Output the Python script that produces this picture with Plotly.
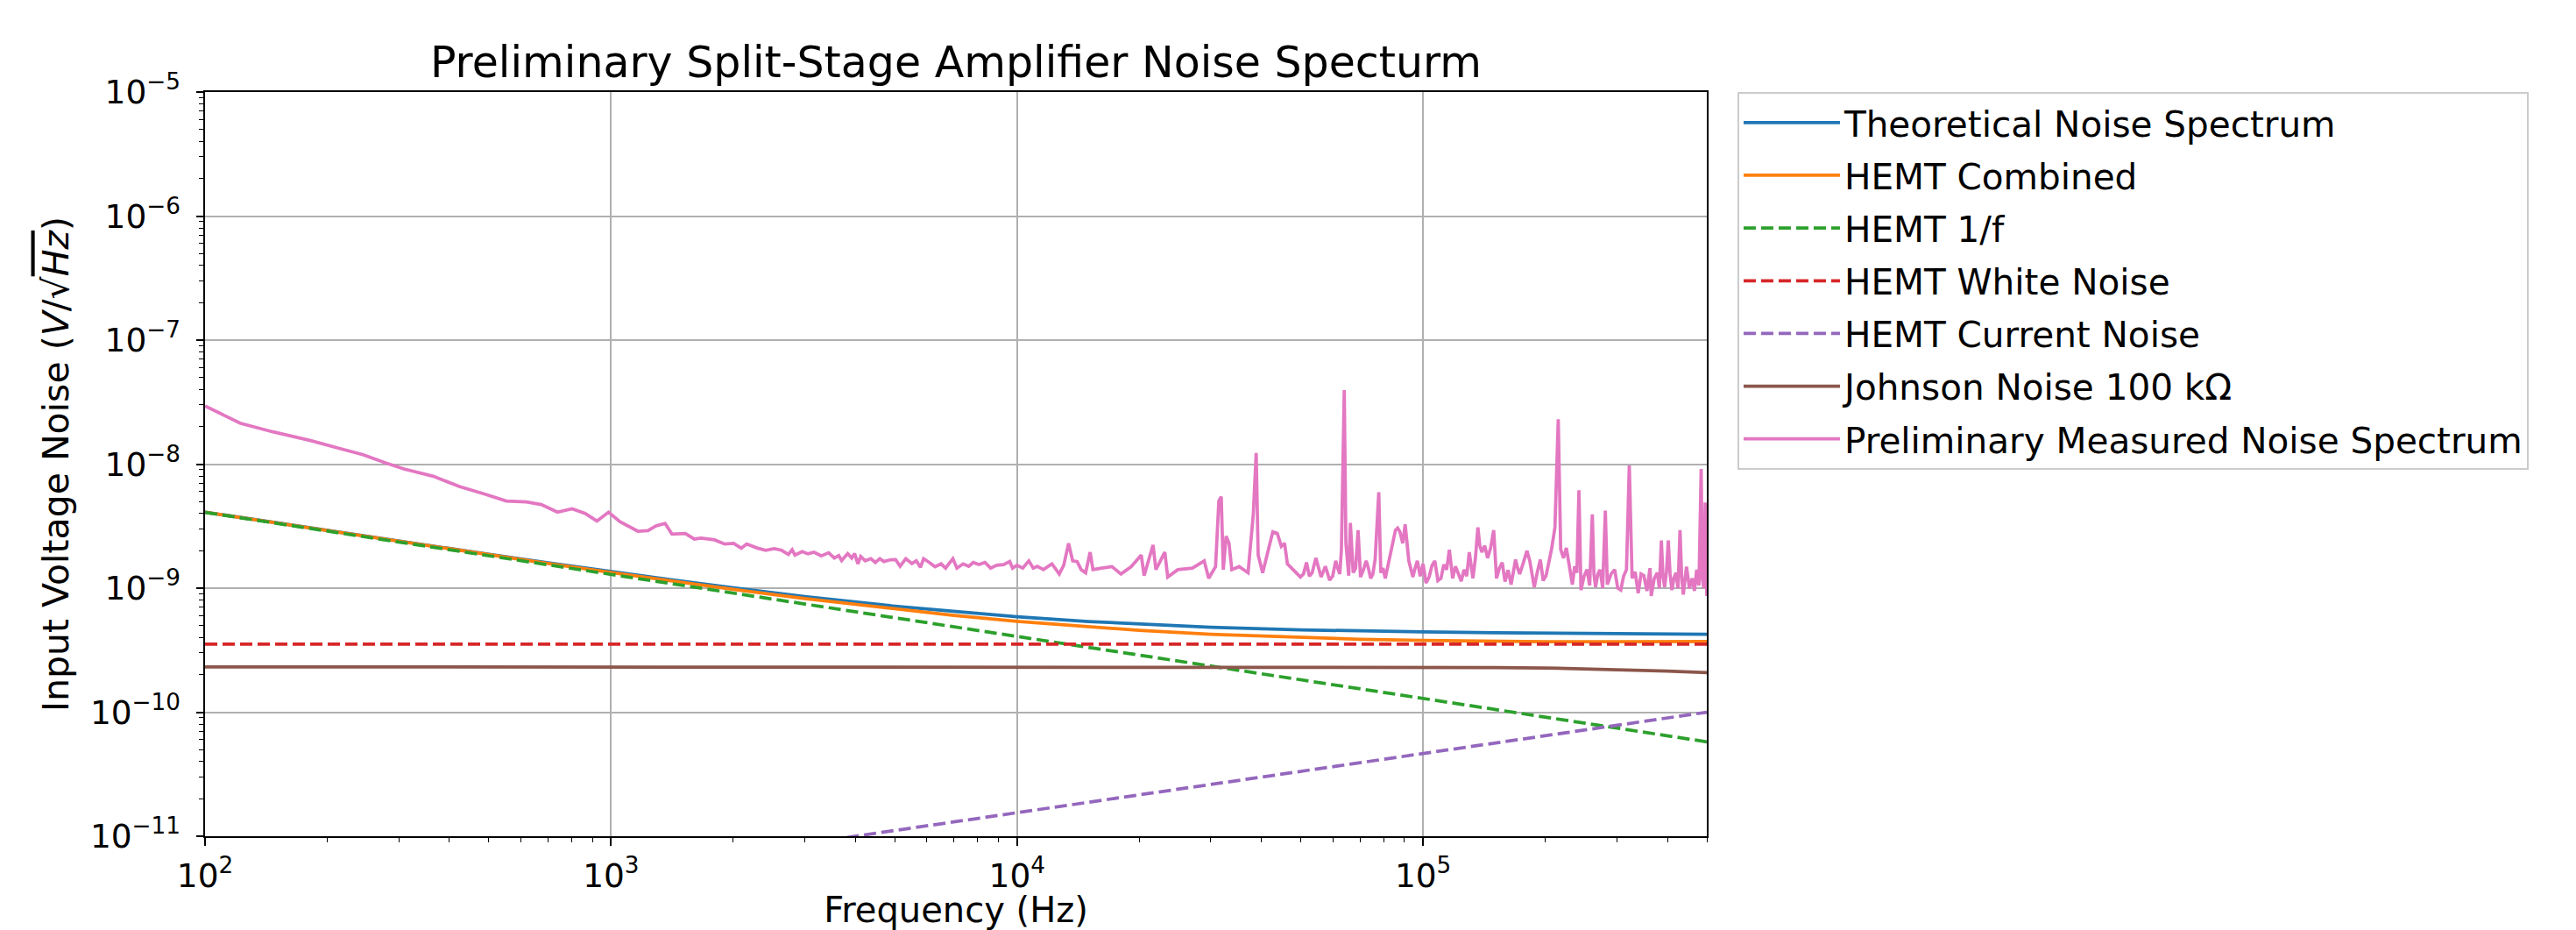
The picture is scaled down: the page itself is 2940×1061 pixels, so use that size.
import plotly.graph_objects as go

# ---------------- data ----------------
theory_freq = [100, 150, 200, 300, 500, 700, 1e3, 1.5e3, 2e3, 3e3, 5e3, 7e3,
               1e4, 1.5e4, 2e4, 3e4, 5e4, 7e4, 1e5, 1.5e5, 2e5, 3e5, 4e5, 5e5]

# values in units of 1e-10 V/sqrt(Hz)
theoretical_total = [41.02, 33.58, 29.16, 23.94, 18.73, 15.99, 13.58, 11.35, 10.05, 8.565, 7.151, 6.455,
                     5.875, 5.382, 5.120, 4.845, 4.612, 4.512, 4.435, 4.375, 4.345, 4.307, 4.278, 4.250]
hemt_combined = [40.95, 33.50, 29.07, 23.82, 18.59, 15.82, 13.38, 11.11, 9.78, 8.24, 6.765, 6.025,
                 5.397, 4.857, 4.564, 4.252, 3.988, 3.872, 3.787, 3.726, 3.703, 3.692, 3.699, 3.714]
hemt_1f = [40.8, 33.31, 28.85, 23.56, 18.25, 15.42, 12.90, 10.53, 9.12, 7.45, 5.77, 4.88,
           4.08, 3.331, 2.885, 2.356, 1.825, 1.542, 1.290, 1.053, 0.912, 0.745, 0.645, 0.577]
hemt_white = [3.53] * 24
hemt_current = [0.0172, 0.0209, 0.0239, 0.0290, 0.0371, 0.0435, 0.0516, 0.0626, 0.0718, 0.0871, 0.1112, 0.1306,
                0.1548, 0.1878, 0.2153, 0.2612, 0.3334, 0.3914, 0.4640, 0.5631, 0.6458, 0.7838, 0.8990, 1.0]
johnson = [2.32, 2.32, 2.32, 2.32, 2.32, 2.32, 2.32, 2.32, 2.32, 2.32, 2.32, 2.32,
           2.32, 2.32, 2.32, 2.319, 2.317, 2.314, 2.308, 2.293, 2.273, 2.218, 2.148, 2.08]

# measured spectrum: frequency (Hz) and noise (nV/sqrt(Hz))
measured_freq = [100, 122, 147, 182, 214, 245, 279, 309, 365, 423, 491, 552, 619, 673, 738, 802, 863, 923, 986,
                 1052, 1164, 1233, 1291, 1358, 1413, 1524, 1603, 1667, 1799, 1905, 2004, 2094, 2158, 2286, 2404,
                 2523, 2630, 2735, 2793, 2838, 2958, 3055, 3162, 3296, 3436, 3548, 3639, 3698, 3828, 3917, 3981,
                 4055, 4121, 4227, 4365, 4477, 4592, 4699, 4864, 5023, 5152, 5321, 5508, 5649, 5781, 5888, 6081,
                 6281, 6501, 6668, 6950, 7112, 7362, 7603, 7798, 8054, 8337, 8610, 8913, 9268, 9594, 9750, 10000,
                 10328, 10690, 10965, 11220, 11614, 12190, 12706, 13032, 13397, 13709, 14060, 14388, 14757, 15136,
                 15382, 16180, 17140, 18030, 19100, 20230, 20560, 21630, 21980, 23120, 23500, 24890, 27040, 28910,
                 29650, 30830, 31410, 31840, 32210, 32730, 33270, 33810, 35240, 37070, 38190, 38820, 39260, 40270,
                 41590, 42660, 43750, 44770, 45600, 46340, 47860, 49890, 50760, 51640, 52480, 53330, 54450, 55270,
                 56100, 57480, 58880, 59900, 60950, 61650, 62370, 62950, 63970, 64570, 65610, 66220, 67300, 68240,
                 69180, 70150, 71290, 72440, 73360, 74300, 75250, 76210, 77800, 78700, 79700, 80720, 82100, 83560,
                 84500, 85510, 86600, 87700, 89130, 90360, 92260, 93330, 94410, 95600, 96830, 98400,
                 100000, 101700, 103500, 105200, 106900, 108800, 110700, 112500, 114300, 116100, 118300, 120200,
                 122200, 124200, 126200, 128100, 130000, 132700, 134600, 136500, 138000, 139600, 141900, 144200,
                 146700, 149300, 151700, 154200, 156700, 159200, 162000, 164800, 166900, 169000, 171000, 173000,
                 176600, 180300, 183200, 185500, 187900, 191200, 194500, 197700, 200900, 204000, 207500, 211300,
                 215300, 218300, 221800, 225400, 229300, 233300, 236300, 239300, 242100, 244900, 249200, 253500,
                 257300, 261200, 263600, 266100, 269500, 272900, 277000, 281200, 284400, 290400, 296500, 301700,
                 306900, 311900, 317000, 322100, 327300, 333000, 338800, 344300, 349900, 356000, 362200, 364800,
                 371200, 377600, 382000, 386400, 390000, 393600, 397700, 401800, 406000, 410200, 415000, 419800,
                 424600, 429500, 433500, 437500, 441500, 445600, 453000, 460300, 466200, 472100, 478100, 484200,
                 487500, 491500, 495500, 500000]
measured_nv = [29.4, 21.4, 18.2, 15.5, 13.4, 11.9, 10.2, 9.14, 7.98, 6.61, 5.70, 5.04, 4.96, 4.72, 4.10, 4.36, 4.01,
               3.48, 4.10, 3.44, 2.88, 2.91, 3.18, 3.33, 2.73, 2.76, 2.49, 2.53, 2.45, 2.27, 2.30, 2.10, 2.27, 2.11,
               2.02, 2.08, 2.02, 1.87, 2.04, 1.85, 1.97, 1.89, 1.95, 1.82, 1.93, 1.75, 1.83, 1.67, 1.90, 1.75, 1.90,
               1.57, 1.80, 1.66, 1.73, 1.61, 1.73, 1.64, 1.69, 1.70, 1.50, 1.73, 1.58, 1.66, 1.47, 1.73, 1.61,
               1.49, 1.57, 1.45, 1.73, 1.45, 1.57, 1.50, 1.61, 1.55, 1.61, 1.45, 1.53, 1.55, 1.64, 1.45, 1.53,
               1.45, 1.66, 1.45, 1.50, 1.41, 1.57, 1.30, 1.53, 2.30, 1.66, 1.64, 1.41, 1.33, 1.95,
               1.41, 1.45, 1.49, 1.30, 1.49, 1.85, 1.26, 2.23, 1.41, 1.95, 1.23, 1.41, 1.45, 1.66,
               1.20, 1.49, 5.04, 5.47, 1.41, 2.63, 2.30, 1.41, 1.49, 1.33, 3.94, 12.3, 1.85, 1.33,
               2.06, 2.85, 2.77, 2.17, 2.30, 1.57, 1.41, 1.23, 1.30, 1.61, 1.25, 1.33, 1.75, 1.45,
               1.23, 1.50, 1.16, 1.25, 1.66, 1.45, 1.30, 2.06, 39.5, 2.30, 1.26, 3.36, 1.33, 1.45,
               2.93, 1.23, 1.40, 1.66, 1.45, 1.20, 1.30, 1.70, 5.93, 1.33, 1.45, 1.20, 1.55, 2.06,
               2.50, 2.93, 3.05, 2.85, 2.30, 3.27, 1.66, 1.40, 1.23, 1.45, 1.66, 1.25,
               1.57, 1.10, 1.23, 1.52, 1.66, 1.15, 1.20, 1.55, 1.41, 2.04, 1.20, 1.50,
               1.33, 1.14, 1.41, 1.25, 1.95, 1.20, 1.75, 3.09, 2.20, 1.95, 2.20, 1.75,
               2.10, 2.93, 1.20, 1.45, 1.61, 1.13, 1.40, 1.07, 1.35, 1.70, 1.45, 1.30,
               1.60, 2.00, 1.66, 1.25, 1.02, 1.35, 1.70, 1.15, 1.26, 1.60, 2.10, 3.09,
               23.0, 2.06, 1.75, 2.11, 1.45, 1.07, 1.50, 1.33, 6.15, 0.964, 1.25, 1.41,
               1.05, 3.94, 1.30, 1.02, 1.30, 1.41, 1.00, 4.21, 1.07, 1.30, 1.41, 1.00,
               0.964, 1.25, 1.41, 9.77, 1.20, 1.35, 0.912, 1.30, 1.26, 0.95, 1.45, 0.865,
               1.20, 1.33, 1.00, 2.42, 1.25, 1.02, 1.35, 2.42, 1.30, 0.964, 1.20, 1.33,
               1.00, 2.93, 1.25, 0.887, 1.15, 1.49, 1.00, 1.20, 0.95, 1.41, 1.05, 9.14,
               1.20, 1.00, 4.90, 0.865]

x_tick_vals = [1e2, 1e3, 1e4, 1e5]
x_tick_text = ["10<sup>2</sup>", "10<sup>3</sup>", "10<sup>4</sup>", "10<sup>5</sup>"]
y_tick_vals = [1e-11, 1e-10, 1e-9, 1e-8, 1e-7, 1e-6, 1e-5]
y_tick_text = ["10<sup>\u221211</sup>", "10<sup>\u221210</sup>", "10<sup>\u22129</sup>", "10<sup>\u22128</sup>",
               "10<sup>\u22127</sup>", "10<sup>\u22126</sup>", "10<sup>\u22125</sup>"]

# ---------------- figure ----------------
FONT = "DejaVu Sans"
LW = 3.75
DASH = "14px,6px"

def scaled(vals, k):
    return [v * k for v in vals]

series = [
    ("Theoretical Noise Spectrum", theory_freq, scaled(theoretical_total, 1e-10), "#1f77b4", "solid"),
    ("HEMT Combined", theory_freq, scaled(hemt_combined, 1e-10), "#ff7f0e", "solid"),
    ("HEMT 1/f", theory_freq, scaled(hemt_1f, 1e-10), "#2ca02c", DASH),
    ("HEMT White Noise", theory_freq, scaled(hemt_white, 1e-10), "#d62728", DASH),
    ("HEMT Current Noise", theory_freq, scaled(hemt_current, 1e-10), "#9467bd", DASH),
    ("Johnson Noise 100 k\u03a9", theory_freq, scaled(johnson, 1e-10), "#8c564b", "solid"),
    ("Preliminary Measured Noise Spectrum", measured_freq, scaled(measured_nv, 1e-9), "#e377c2", "solid"),
]

fig = go.Figure()
for i, (name, xs, ys, col, dash) in enumerate(series):
    fig.add_trace(go.Scatter(x=xs, y=ys, mode="lines", name=name, legendgroup=f"g{i}",
                             line=dict(color=col, width=LW, dash=dash)))

minor_x = [m * 10 ** e for e in range(2, 6) for m in range(2, 10) if m * 10 ** e <= 5e5]
minor_y = [m * 10.0 ** e for e in range(-11, -5) for m in range(2, 10)]

axis_common = dict(
    type="log", showline=True, linecolor="black", linewidth=2, mirror=True,
    ticks="outside", ticklen=8.5, tickwidth=1.8, tickcolor="black",
    showgrid=True, gridcolor="#b0b0b0", gridwidth=2,
    tickfont=dict(family=FONT, size=37.5, color="black"),
    zeroline=False, automargin=False,
)

fig.update_layout(
    width=2940, height=1061,
    margin=dict(l=234, r=992, t=105, b=107, autoexpand=False),
    paper_bgcolor="white", plot_bgcolor="white",
    font=dict(family=FONT, size=40, color="black"),
    title=dict(text="Preliminary Split-Stage Amplifier Noise Specturm",
               font=dict(family=FONT, size=49, color="black"),
               x=0.5, xref="paper", xanchor="center",
               y=1, yref="paper", yanchor="bottom", pad=dict(b=17)),
    xaxis=dict(axis_common, range=[2, 5.69897], tickmode="array", tickvals=x_tick_vals, ticktext=x_tick_text,
               ticklabelstandoff=2,
               minor=dict(tickmode="array", tickvals=minor_x, ticks="outside", ticklen=5, tickwidth=1.4,
                          tickcolor="black", showgrid=False),
               title=dict(text="Frequency (Hz)", font=dict(family=FONT, size=40), standoff=23)),
    yaxis=dict(axis_common, range=[-11, -5], tickmode="array", tickvals=y_tick_vals, ticktext=y_tick_text,
               ticklabelstandoff=10,
               minor=dict(tickmode="array", tickvals=minor_y, ticks="outside", ticklen=5, tickwidth=1.4,
                          tickcolor="black", showgrid=False),
               title=dict(text="Input Voltage Noise (<i>V</i>/\u221a<span style='text-decoration:overline'><i>Hz</i></span>)",
                          font=dict(family=FONT, size=41), standoff=12)),
    legend=dict(x=1.0204, y=1.0, xanchor="left", yanchor="top",
                font=dict(family=FONT, size=40.5, color="black"),
                bgcolor="white", bordercolor="#cccccc", borderwidth=2,
                tracegroupgap=4.5, itemwidth=110),
    showlegend=True,
)

fig.write_html("out.html")
